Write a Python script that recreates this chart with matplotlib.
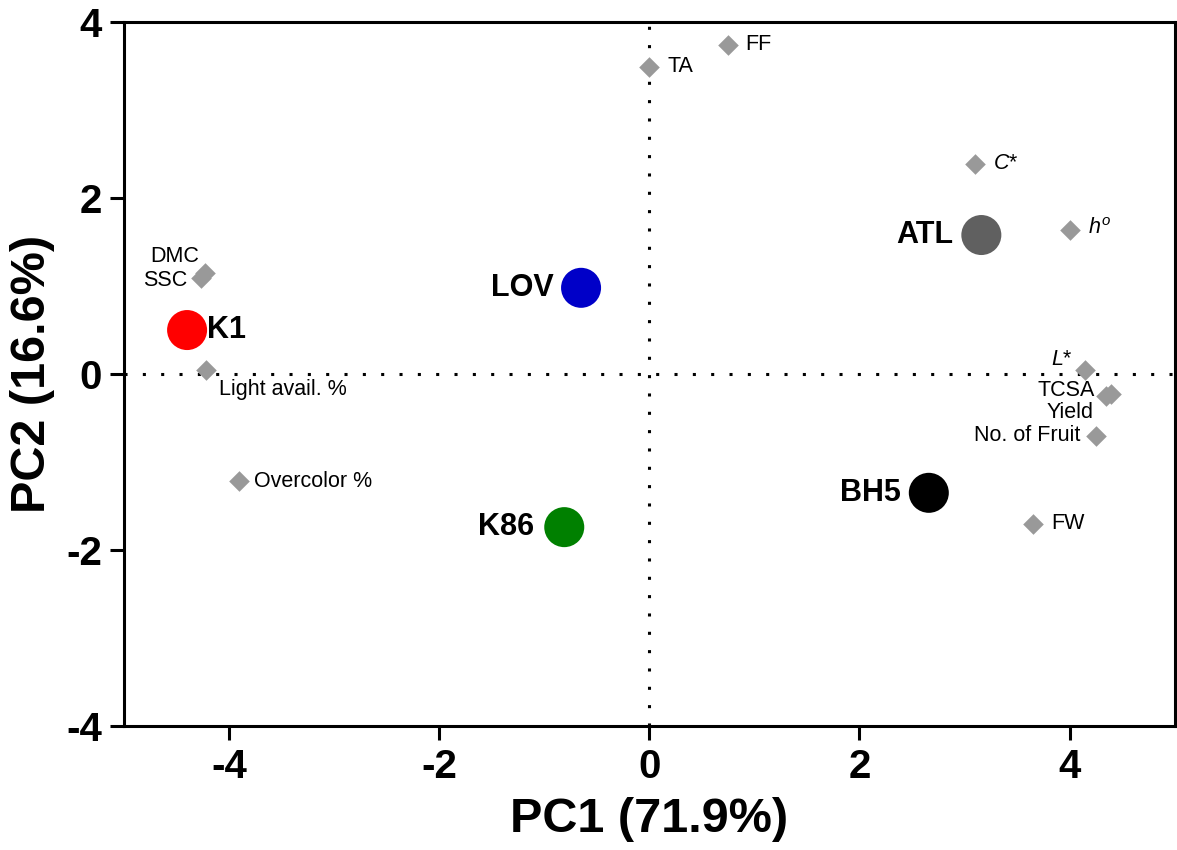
import matplotlib
matplotlib.use('Agg')
import matplotlib.pyplot as plt

plt.rcParams['font.family'] = ['Liberation Sans', 'DejaVu Sans']
plt.rcParams['mathtext.fontset'] = 'custom'
plt.rcParams['mathtext.rm'] = 'Liberation Sans'
plt.rcParams['mathtext.it'] = 'Liberation Sans:italic'
plt.rcParams['axes.unicode_minus'] = False

# cultivar scores
cultivars = ['K1', 'LOV', 'ATL', 'BH5', 'K86']
cult_pc1 = [-4.40, -0.65, 3.16, 2.66, -0.81]
cult_pc2 = [0.50, 0.98, 1.58, -1.35, -1.74]
cult_colors = ['#ff0000', '#0000c8', '#606060', '#000000', '#008000']

# variable loadings
variables = ['DMC', 'SSC', 'Light avail. %', 'Overcolor %', 'TA', 'FF', r'$C$*',
             r'$h^o$', r'$L$*', 'TCSA', 'Yield', 'No. of Fruit', 'FW']
var_pc1 = [-4.23, -4.27, -4.22, -3.91, 0.0, 0.75, 3.10, 4.00, 4.15, 4.39, 4.35, 4.25, 3.65]
var_pc2 = [1.15, 1.09, 0.05, -1.22, 3.49, 3.74, 2.39, 1.64, 0.05, -0.23, -0.25, -0.70, -1.70]

# label offsets (points) and alignment
cult_off = [(14, 0, 'left'), (-20, 0, 'right'), (-20, 0, 'right'), (-20, 0, 'right'), (-22, 0, 'right')]
var_off = [(-4, 12, 'right'), (-10, -2, 'right'), (9, -14, 'left'), (11, 0, 'left'),
           (13, 0, 'left'), (12, 0, 'left'), (13, 0, 'left'), (13, 1, 'left'),
           (-9, 7, 'right'), (-11, 3, 'right'), (-9, -12, 'right'), (-11, 0, 'right'),
           (13, 0, 'left')]

fig = plt.figure(figsize=(11.77, 8.5), dpi=100)
ax = fig.add_axes([0.1054, 0.1459, 0.8926, 0.8281])

ax.axhline(0, color='black', ls=(0, (1, 5)), lw=2.2, zorder=1)
ax.axvline(0, color='black', ls=(0, (1, 5)), lw=2.2, zorder=1)

ax.scatter(var_pc1, var_pc2, marker='D', s=110, color='#999999', zorder=3, linewidths=0)
for name, x, y, (dx, dy, ha) in zip(variables, var_pc1, var_pc2, var_off):
    ax.annotate(name, (x, y), xytext=(dx, dy), textcoords='offset points',
                ha=ha, va='center', fontsize=15.5, color='black')

ax.scatter(cult_pc1, cult_pc2, s=830, c=cult_colors, zorder=4, linewidths=0)
for name, x, y, (dx, dy, ha) in zip(cultivars, cult_pc1, cult_pc2, cult_off):
    ax.annotate(name, (x, y), xytext=(dx, dy), textcoords='offset points',
                ha=ha, va='center', fontsize=22, fontweight='bold')

ax.set_xlim(-5, 5)
ax.set_ylim(-4, 4)
ax.set_xticks([-4, -2, 0, 2, 4])
ax.set_yticks([-4, -2, 0, 2, 4])
for s in ax.spines.values():
    s.set_linewidth(2.2)
ax.tick_params(direction='out', length=10, width=2.2, labelsize=29, pad=6)
for lab in ax.get_xticklabels() + ax.get_yticklabels():
    lab.set_fontweight('bold')

ax.set_xlabel('PC1 (71.9%)', fontsize=35, fontweight='bold', labelpad=8)
ax.set_ylabel('PC2 (16.6%)', fontsize=35, fontweight='bold', labelpad=8)

fig.savefig('out.png', dpi=100)
